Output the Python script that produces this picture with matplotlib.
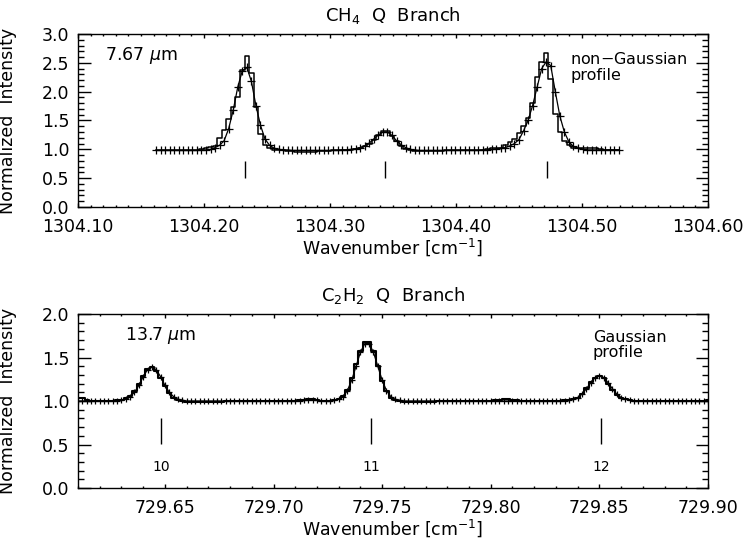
import matplotlib
matplotlib.use("Agg")
import matplotlib.pyplot as plt
import numpy as np
from matplotlib.ticker import MultipleLocator

plt.rcParams['font.family'] = 'DejaVu Sans'
plt.rcParams['mathtext.fontset'] = 'dejavusans'

# CH4 Q branch near 7.67 um (sampling start / step in cm^-1)
ch4_start, ch4_step = 1304.162, 0.0036
ch4_obs = [
    0.98, 0.98, 0.99, 0.98, 0.98, 0.98, 0.99, 0.98, 0.98, 0.99,
    1.00, 1.02, 1.04, 1.06, 1.20, 1.34, 1.52, 1.74, 1.90, 2.38,
    2.62, 2.32, 1.74, 1.26, 1.08, 1.02, 0.99, 0.98, 0.98, 0.97,
    0.97, 0.96, 0.96, 0.96, 0.96, 0.96, 0.97, 0.97, 0.97, 0.98,
    0.98, 0.98, 0.99, 0.99, 1.01, 1.03, 1.05, 1.10, 1.17, 1.25,
    1.31, 1.31, 1.23, 1.14, 1.06, 1.01, 0.98, 0.97, 0.97, 0.97,
    0.97, 0.97, 0.97, 0.97, 0.98, 0.98, 0.98, 0.98, 0.98, 0.98,
    0.98, 0.99, 0.99, 1.00, 1.02, 1.03, 1.03, 1.07, 1.12, 1.18,
    1.28, 1.40, 1.54, 1.80, 2.26, 2.52, 2.67, 2.22, 1.62, 1.30,
    1.14, 1.07, 1.03, 1.02, 1.02, 1.03, 1.03, 1.02, 1.00, 0.99,
    0.99, 0.99, 0.99,
]
ch4_model = [
    0.98, 0.98, 0.98, 0.98, 0.98, 0.98, 0.98, 0.98, 0.98, 0.98,
    0.99, 0.99, 1.00, 1.03, 1.07, 1.15, 1.36, 1.68, 2.08, 2.36,
    2.42, 2.18, 1.76, 1.42, 1.18, 1.07, 1.02, 1.00, 0.99, 0.99,
    0.98, 0.98, 0.98, 0.98, 0.98, 0.98, 0.98, 0.98, 0.98, 0.98,
    0.98, 0.99, 0.99, 1.00, 1.01, 1.03, 1.06, 1.11, 1.18, 1.25,
    1.30, 1.30, 1.24, 1.15, 1.08, 1.03, 1.00, 0.99, 0.98, 0.98,
    0.98, 0.98, 0.98, 0.98, 0.98, 0.98, 0.98, 0.98, 0.98, 0.98,
    0.98, 0.98, 0.99, 0.99, 1.00, 1.01, 1.02, 1.03, 1.06, 1.10,
    1.17, 1.32, 1.50, 1.76, 2.08, 2.40, 2.52, 2.45, 2.00, 1.58,
    1.30, 1.13, 1.05, 1.02, 1.00, 0.99, 0.99, 0.99, 0.99, 0.99,
    0.99, 0.99, 0.99,
]
ch4_lines = [1304.2325, 1304.3437, 1304.4722]

# C2H2 Q branch near 13.7 um
c2h2_start, c2h2_step = 729.61, 0.002
c2h2_obs = [
    1.04, 1.03, 1.01, 1.00, 1.00, 1.00, 1.00, 1.00, 1.00, 1.01,
    1.01, 1.03, 1.06, 1.11, 1.19, 1.29, 1.37, 1.39, 1.35, 1.27,
    1.17, 1.09, 1.04, 1.01, 1.00, 0.99, 0.99, 0.99, 0.99, 0.99,
    0.99, 0.99, 0.99, 0.99, 1.00, 1.00, 1.00, 1.00, 1.00, 1.00,
    1.00, 1.00, 1.00, 1.00, 1.00, 1.00, 1.00, 1.00, 1.00, 1.00,
    1.00, 1.01, 1.01, 1.02, 1.02, 1.01, 1.00, 1.00, 1.00, 1.01,
    1.02, 1.06, 1.13, 1.26, 1.42, 1.58, 1.68, 1.68, 1.57, 1.40,
    1.23, 1.11, 1.04, 1.01, 1.00, 0.99, 0.99, 0.99, 0.99, 0.99,
    0.99, 0.99, 0.99, 1.00, 1.00, 1.00, 1.00, 1.00, 1.00, 1.00,
    1.00, 1.00, 1.00, 1.00, 1.00, 1.00, 1.01, 1.01, 1.02, 1.02,
    1.01, 1.01, 1.00, 1.00, 1.00, 1.00, 1.00, 1.00, 1.00, 1.00,
    1.00, 1.00, 1.01, 1.01, 1.02, 1.04, 1.08, 1.15, 1.22, 1.27,
    1.29, 1.26, 1.20, 1.13, 1.07, 1.04, 1.02, 1.01, 1.00, 1.00,
    1.00, 1.00, 1.00, 1.00, 1.00, 1.00, 1.00, 1.00, 1.00, 1.00,
    1.00, 1.00, 1.00, 1.00, 1.00, 1.01,
]
c2h2_model = [
    1.00, 1.00, 1.00, 1.00, 1.00, 1.00, 1.00, 1.00, 1.00, 1.00,
    1.01, 1.02, 1.05, 1.10, 1.18, 1.28, 1.36, 1.39, 1.36, 1.28,
    1.18, 1.10, 1.05, 1.02, 1.01, 1.00, 1.00, 1.00, 1.00, 1.00,
    1.00, 1.00, 1.00, 1.00, 1.00, 1.00, 1.00, 1.00, 1.00, 1.00,
    1.00, 1.00, 1.00, 1.00, 1.00, 1.00, 1.00, 1.00, 1.00, 1.00,
    1.00, 1.00, 1.01, 1.01, 1.01, 1.01, 1.00, 1.00, 1.00, 1.01,
    1.02, 1.05, 1.12, 1.24, 1.40, 1.56, 1.66, 1.66, 1.56, 1.40,
    1.24, 1.12, 1.05, 1.02, 1.01, 1.00, 1.00, 1.00, 1.00, 1.00,
    1.00, 1.00, 1.00, 1.00, 1.00, 1.00, 1.00, 1.00, 1.00, 1.00,
    1.00, 1.00, 1.00, 1.00, 1.00, 1.00, 1.00, 1.00, 1.00, 1.00,
    1.00, 1.00, 1.00, 1.00, 1.00, 1.00, 1.00, 1.00, 1.00, 1.00,
    1.00, 1.00, 1.00, 1.01, 1.02, 1.04, 1.08, 1.14, 1.21, 1.27,
    1.29, 1.27, 1.21, 1.14, 1.08, 1.04, 1.02, 1.01, 1.00, 1.00,
    1.00, 1.00, 1.00, 1.00, 1.00, 1.00, 1.00, 1.00, 1.00, 1.00,
    1.00, 1.00, 1.00, 1.00, 1.00, 1.00,
]
c2h2_lines = [729.6482, 729.7449, 729.8507]
c2h2_line_labels = ['10', '11', '12']

wn_ch4 = ch4_start + ch4_step * np.arange(len(ch4_obs))
wn_c2h2 = c2h2_start + c2h2_step * np.arange(len(c2h2_obs))

fig = plt.figure(figsize=(7.47, 5.44), dpi=100)
ax1 = fig.add_axes([0.1044, 0.6195, 0.8434, 0.318])
ax2 = fig.add_axes([0.1044, 0.1029, 0.8434, 0.3199])

FS = 12.5


def idl_axes(ax, xmajor, xminor, ymajor, yminor):
    ax.xaxis.set_major_locator(MultipleLocator(xmajor))
    ax.xaxis.set_minor_locator(MultipleLocator(xminor))
    ax.yaxis.set_major_locator(MultipleLocator(ymajor))
    ax.yaxis.set_minor_locator(MultipleLocator(yminor))
    ax.tick_params(which='both', direction='in', top=True, right=True,
                   labelsize=FS, width=1.0)
    ax.tick_params(axis='x', which='major', length=2.8, pad=8)
    ax.tick_params(axis='x', which='minor', length=1.6)
    ax.tick_params(axis='y', which='major', length=9, pad=6)
    ax.tick_params(axis='y', which='minor', length=4.5)
    for s in ax.spines.values():
        s.set_linewidth(1.0)
    ax.set_ylabel('Normalized  Intensity', fontsize=FS)
    ax.yaxis.set_label_coords(-0.097, 0.5)
    ax.set_xlabel('Wavenumber [cm$^{-1}$]', fontsize=FS, labelpad=0.5)


# top panel: CH4
ax1.step(wn_ch4, ch4_obs, where='mid', color='black', lw=1.1)
ax1.plot(wn_ch4, ch4_model, color='black', lw=0.9, marker='+', ms=5.5, mew=0.9)
ax1.vlines(ch4_lines, 0.5, 0.8, color='black', lw=1.0)
ax1.set_xlim(1304.10, 1304.60)
ax1.set_ylim(0.0, 3.0)
idl_axes(ax1, 0.1, 0.01, 0.5, 0.1)
ax1.xaxis.set_major_formatter(plt.FormatStrFormatter('%.2f'))
ax1.yaxis.set_major_formatter(plt.FormatStrFormatter('%.1f'))
ax1.set_title('CH$_4$  Q  Branch', fontsize=FS + 0.5, pad=9)
ax1.text(1304.1214, 2.62, '7.67 $\\mu$m', fontsize=FS, va='center')
ax1.text(1304.4905, 2.70, 'non$-$Gaussian\nprofile', fontsize=FS - 1,
         va='top', ha='left', linespacing=1.05)

# bottom panel: C2H2
ax2.step(wn_c2h2, c2h2_obs, where='mid', color='black', lw=1.5)
ax2.plot(wn_c2h2, c2h2_model, color='black', lw=0.9, marker='+', ms=5, mew=0.9)
ax2.vlines(c2h2_lines, 0.51, 0.80, color='black', lw=1.0)
for xl, lab in zip(c2h2_lines, c2h2_line_labels):
    ax2.text(xl, 0.245, lab, fontsize=FS - 2.5, ha='center', va='center')
ax2.set_xlim(729.61, 729.90)
ax2.set_ylim(0.0, 2.0)
idl_axes(ax2, 0.05, 0.01, 0.5, 0.1)
ax2.xaxis.set_major_formatter(plt.FormatStrFormatter('%.2f'))
ax2.yaxis.set_major_formatter(plt.FormatStrFormatter('%.1f'))
ax2.set_title('C$_2$H$_2$  Q  Branch', fontsize=FS + 0.5, pad=9)
ax2.text(729.6316, 1.75, '13.7 $\\mu$m', fontsize=FS, va='center')
ax2.text(729.847, 1.82, 'Gaussian\nprofile', fontsize=FS - 1,
         va='top', ha='left', linespacing=1.05)

fig.savefig('out.png', dpi=100)
